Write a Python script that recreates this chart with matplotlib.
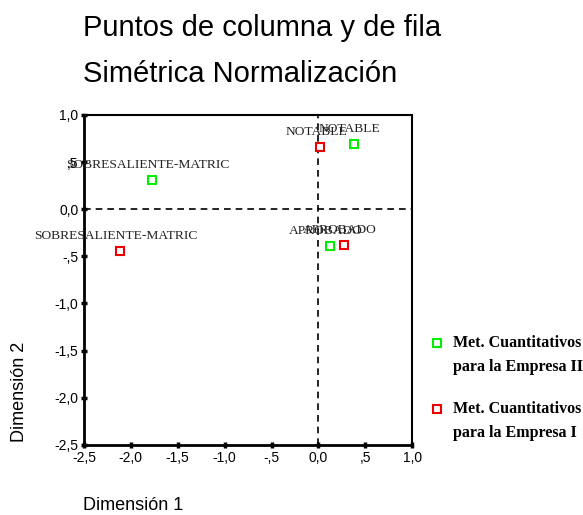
import numpy as np
import matplotlib.pyplot as plt
from matplotlib.lines import Line2D

plt.rcParams['font.family'] = 'Liberation Sans'

# row / column points (Dimension 1, Dimension 2)
labels_ii = ['SOBRESALIENTE-MATRIC', 'NOTABLE', 'APROBADO']
dim1_ii = [-1.77, 0.38, 0.12]
dim2_ii = [0.31, 0.69, -0.39]

labels_i = ['SOBRESALIENTE-MATRIC', 'NOTABLE', 'APROBADO']
dim1_i = [-2.12, 0.02, 0.27]
dim2_i = [-0.44, 0.66, -0.38]

ticks = [-2.5, -2.0, -1.5, -1.0, -0.5, 0.0, 0.5, 1.0]
tick_labels = ['-2,5', '-2,0', '-1,5', '-1,0', '-,5', '0,0', ',5', '1,0']

series_first = ['Met. Cuantitativos', 'Met. Cuantitativos']
series_second = ['para la Empresa II', 'para la Empresa I']
colors = ['#00ee00', '#ee0000']

fig = plt.figure(figsize=(5.83, 5.15), dpi=100)
ax = fig.add_axes([0.144, 0.136, 0.563, 0.641])

ax.axhline(0, color='black', ls=(0, (4, 3)), lw=1.2, zorder=1)
ax.axvline(0, color='black', ls=(0, (4, 3)), lw=1.2, zorder=1)

for xs, ys, labs, col in [(dim1_ii, dim2_ii, labels_ii, colors[0]),
                          (dim1_i, dim2_i, labels_i, colors[1])]:
    ax.plot(xs, ys, ls='none', marker='s', ms=5.5, mfc='white', mec=col, mew=1.5,
            zorder=3)
    for x, y, t in zip(xs, ys, labs):
        ax.annotate(t, (x, y), xytext=(-3, 8.6), textcoords='offset points',
                    ha='center', va='baseline', fontsize=9.7,
                    family='Liberation Serif', color='#222222')

ax.set_xlim(-2.5, 1.0)
ax.set_ylim(-2.5, 1.0)
ax.set_xticks(ticks)
ax.set_xticklabels(tick_labels)
ax.set_yticks(ticks)
ax.set_yticklabels(tick_labels)
ax.tick_params(direction='inout', length=4, width=2.5, labelsize=10, pad=2)

for s in ['left', 'bottom']:
    ax.spines[s].set_linewidth(2)
for s in ['top', 'right']:
    ax.spines[s].set_linewidth(1.5)

fig.text(0.142, 1 - 36 / 515, 'Puntos de columna y de fila', fontsize=21,
         va='baseline')
fig.text(0.142, 1 - 82 / 515, 'Simétrica Normalización', fontsize=21,
         va='baseline')
fig.text(0.142, 0.01, 'Dimensión 1', fontsize=13, va='baseline')
fig.text(20 / 583, 1 - 392 / 515, 'Dimensión 2', fontsize=13, rotation=90,
         ha='center', va='center')

# legend: marker beside the first line of each two-line entry
leg_rows = [343, 409]
for row, col, l1, l2 in zip(leg_rows, colors, series_first, series_second):
    yf = 1 - row / 515
    fig.add_artist(Line2D([437 / 583], [yf], transform=fig.transFigure,
                          ls='none', marker='s', ms=5.5, mfc='white', mec=col,
                          mew=1.5))
    fig.text(453 / 583, yf, l1, family='Liberation Serif', weight='bold',
             fontsize=11.5, va='center')
    fig.text(453 / 583, yf - 24 / 515, l2, family='Liberation Serif',
             weight='bold', fontsize=11.5, va='center')

fig.savefig('out.png', dpi=100)
